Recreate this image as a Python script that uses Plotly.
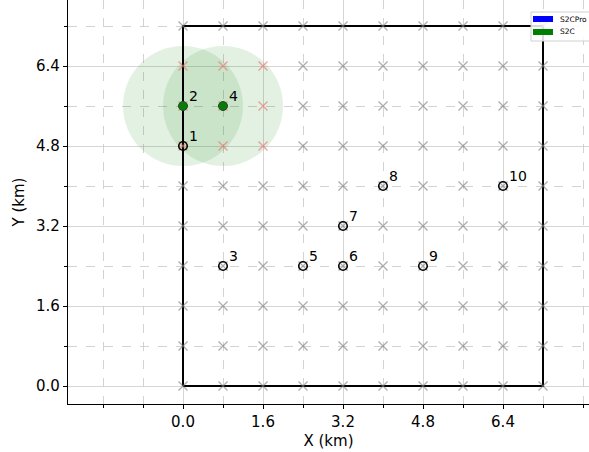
import plotly.graph_objects as go

# ---- data ----
field_size = 7.2
grid_vals = [0.0, 0.8, 1.6, 2.4, 3.2, 4.0, 4.8, 5.6, 6.4, 7.2]
covered_x = [0.0, 0.8, 1.6, 0.0, 0.8, 1.6, 0.0, 0.8, 1.6]
covered_y = [6.4, 6.4, 6.4, 5.6, 5.6, 5.6, 4.8, 4.8, 4.8]
point_ids = ["1", "2", "3", "4", "5", "6", "7", "8", "9", "10"]
point_x = [0.0, 0.0, 0.8, 0.8, 2.4, 3.2, 3.2, 4.0, 4.8, 6.4]
point_y = [4.8, 5.6, 2.4, 5.6, 2.4, 2.4, 3.2, 4.0, 2.4, 4.0]
selected_ids = ["2", "4"]
coverage_radius = 1.2
major_ticks = [0.0, 1.6, 3.2, 4.8, 6.4]
minor_x = [-1.6, -0.8, 0.8, 2.4, 4.0, 5.6, 7.2, 8.0]
minor_y = [0.8, 2.4, 4.0, 5.6, 7.2]
legend_names = ["S2CPro", "S2C"]
legend_colors = ["blue", "green"]

covered = set(zip(covered_x, covered_y))
gx, gy = [], []
for xv in grid_vals:
    for yv in grid_vals:
        if (xv, yv) not in covered:
            gx.append(xv)
            gy.append(yv)

FONT = "DejaVu Sans"
W, H = 589, 452
ML, MB = 68, 48
PW, PH = W - ML, H - MB

def px_x(p):
    return (p - ML) / PW

def px_y(p):
    return 1 - p / PH

fig = go.Figure()

# field boundary
fig.add_trace(go.Scatter(
    x=[0, field_size, field_size, 0, 0], y=[0, 0, field_size, field_size, 0],
    mode="lines", line=dict(color="black", width=2), showlegend=False, hoverinfo="skip"))

# grid candidate positions
fig.add_trace(go.Scatter(
    x=gx, y=gy, mode="markers",
    marker=dict(symbol="x-thin", size=9, line=dict(color="rgba(128,128,128,0.65)", width=1.3)),
    showlegend=False))
fig.add_trace(go.Scatter(
    x=covered_x, y=covered_y, mode="markers",
    marker=dict(symbol="x-thin", size=9, line=dict(color="rgba(240,110,110,0.65)", width=1.3)),
    showlegend=False))

# points
sel_x = [x for x, i in zip(point_x, point_ids) if i in selected_ids]
sel_y = [y for y, i in zip(point_y, point_ids) if i in selected_ids]
oth_x = [x for x, i in zip(point_x, point_ids) if i not in selected_ids]
oth_y = [y for y, i in zip(point_y, point_ids) if i not in selected_ids]
fig.add_trace(go.Scatter(
    x=oth_x, y=oth_y, mode="markers",
    marker=dict(symbol="circle-open", size=8.5, line=dict(color="black", width=1.6), color="black"),
    showlegend=False))
fig.add_trace(go.Scatter(
    x=sel_x, y=sel_y, mode="markers",
    marker=dict(symbol="circle", size=9, color="#0b7a0b", line=dict(color="#1f4d1f", width=1)),
    showlegend=False))

# coverage circles
for cx, cy in zip(sel_x, sel_y):
    fig.add_shape(type="circle", xref="x", yref="y",
                  x0=cx - coverage_radius, x1=cx + coverage_radius,
                  y0=cy - coverage_radius, y1=cy + coverage_radius,
                  fillcolor="rgba(0,128,0,0.11)", line=dict(width=0), layer="between")

# labels
for pid, px, py in zip(point_ids, point_x, point_y):
    fig.add_annotation(x=px, y=py, text=pid, showarrow=False, xanchor="left", yanchor="bottom",
                       xshift=4, yshift=0, font=dict(family=FONT, size=14, color="black"))

# legend box (matplotlib-style, clipped at the right edge)
fig.add_shape(type="rect", xref="paper", yref="paper",
              x0=px_x(531), x1=px_x(600), y0=px_y(41), y1=px_y(12),
              fillcolor="rgba(255,255,255,0.85)", line=dict(color="#d0d0d0", width=1), layer="above")
for k, (name, col) in enumerate(zip(legend_names, legend_colors)):
    top = 16 + k * 13
    fig.add_shape(type="rect", xref="paper", yref="paper",
                  x0=px_x(533), x1=px_x(553), y0=px_y(top + 6), y1=px_y(top),
                  fillcolor=col, line=dict(width=0), layer="above")
    fig.add_annotation(xref="paper", yref="paper", x=px_x(558), y=px_y(top + 3),
                       text=name, showarrow=False, xanchor="left", yanchor="middle",
                       font=dict(family=FONT, size=7.5, color="black"))

axis_common = dict(
    showline=True, linecolor="black", linewidth=1.2, mirror=False,
    ticks="outside", ticklen=4, tickwidth=1, tickcolor="black",
    tickmode="array", tickvals=major_ticks, ticktext=[f"{v:.1f}" for v in major_ticks],
    showgrid=True, gridcolor="rgba(200,200,200,0.75)", gridwidth=1, zeroline=False,
    tickfont=dict(family=FONT, size=15, color="black"),
)
fig.update_xaxes(**axis_common, range=[-2.3, 8.12],
                 title=dict(text="X (km)", font=dict(family=FONT, size=15, color="black"), standoff=5),
                 minor=dict(tickmode="array", tickvals=minor_x, ticks="outside", ticklen=2.5,
                            tickcolor="black", showgrid=True, gridcolor="rgba(200,200,200,0.8)",
                            griddash="dash", gridwidth=0.8))
fig.update_yaxes(**axis_common, range=[-0.36, 7.72],
                 title=dict(text="Y (km)", font=dict(family=FONT, size=15, color="black"), standoff=7),
                 minor=dict(tickmode="array", tickvals=minor_y, ticks="outside", ticklen=2.5,
                            tickcolor="black", showgrid=True, gridcolor="rgba(200,200,200,0.8)",
                            griddash="dash", gridwidth=0.8))

fig.update_layout(
    width=W, height=H,
    margin=dict(l=ML, r=0, t=0, b=MB, autoexpand=False),
    plot_bgcolor="white", paper_bgcolor="white",
    font=dict(family=FONT, color="black"),
    showlegend=False,
)

fig.write_html("out.html")
